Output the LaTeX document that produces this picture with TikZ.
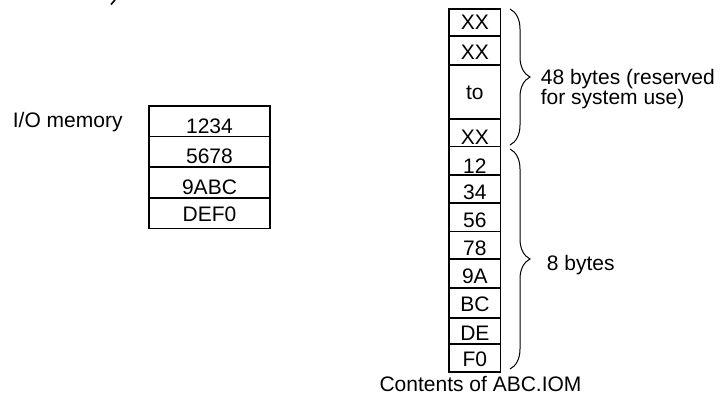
\documentclass[tikz,border=0pt]{standalone}
\usepackage{fontspec}
\setmainfont{Liberation Sans}
\usetikzlibrary{decorations.pathreplacing}
\begin{document}
\begin{tikzpicture}[x=1pt,y=-1pt,
  txt/.style={inner sep=0pt,font=\fontsize{21}{24}\selectfont},
  cellbox/.style={draw=black,line width=1.3pt,inner sep=0pt},
  bracepath/.style={draw=black,line width=1pt,decorate,
    decoration={brace,amplitude=20pt,aspect=0.5}}]
\useasboundingbox (0,0) rectangle (724,396);
% fragment of a cut-off glyph at the top
\draw[line width=1.6pt] (115,0) -- (111,4.5);
% helper: \mycell{name}{xl}{xr}{ytop}{ybot}{text}{baseline}
\newcommand{\mycell}[7]{%
  \node[cellbox,minimum width={#3-#2},minimum height={#5-#4}] (#1)
     at ({(#2+#3)/2},{(#4+#5)/2}) {};
  \node[txt,anchor=base] (#1t) at ({(#2+#3)/2},#7) {#6};}
% I/O memory
\node[txt,anchor=base west] (iolabel) at (12.7,128) {I/O memory};
\mycell{l1}{149}{270}{106}{136.7}{1234}{134}
\mycell{l2}{149}{270}{136.7}{167}{5678}{164}
\mycell{l3}{149}{270}{167}{198}{9ABC}{194.5}
\mycell{l4}{149}{270}{198}{228.7}{DEF0}{221}
% Right column
\mycell{r1}{449}{500.7}{9}{36}{XX}{30}
\mycell{r2}{449}{500.7}{36}{65}{XX}{60}
\mycell{r3}{449}{500.7}{65}{119}{to}{100}
\mycell{r4}{449}{500.7}{119}{146.7}{XX}{144}
\mycell{r5}{449}{500.7}{146.7}{175}{12}{173.3}
\mycell{r6}{449}{500.7}{175}{203}{34}{200}
\mycell{r7}{449}{500.7}{203}{231.7}{56}{227.3}
\mycell{r8}{449}{500.7}{231.7}{259}{78}{255}
\mycell{r9}{449}{500.7}{259}{288}{9A}{283}
\mycell{r10}{449}{500.7}{288}{318}{BC}{311}
\mycell{r11}{449}{500.7}{318}{344}{DE}{340}
\mycell{r12}{449}{500.7}{344}{372}{F0}{366}
% braces
\coordinate (b1a) at (510,9);
\coordinate (b1b) at (510,145);
\coordinate (b2a) at (510,149);
\coordinate (b2b) at (510,369);
\draw[bracepath] (b1a) -- (b1b);
\draw[bracepath] (b2a) -- (b2b);
\node[txt,anchor=base west] (lbl48a) at (540.7,84.5) {48 bytes (reserved};
\node[txt,anchor=base west] (lbl48b) at (540.7,105) {for system use)};
\node[txt,anchor=base west] (lbl8) at (546.7,270) {8 bytes};
\node[txt,anchor=base] (contents) at (480.5,391.5) {Contents of ABC.IOM};
\end{tikzpicture}
\end{document}
